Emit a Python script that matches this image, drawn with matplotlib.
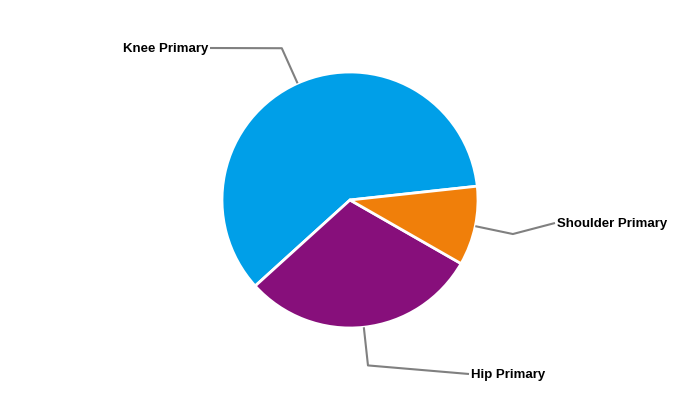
import numpy as np
import matplotlib.pyplot as plt

labels = ['Knee Primary', 'Hip Primary', 'Shoulder Primary']
values = [60, 30, 10]
colors = ['#009FE8', '#870F7B', '#F07F0A']

# label anchor positions (pixels, y down) and alignment
label_pos = [(208, 49), (471, 375), (557, 224)]
label_ha = ['right', 'left', 'left']

plt.rcParams['font.family'] = ['Liberation Sans', 'DejaVu Sans']

fig = plt.figure(figsize=(7, 4), dpi=100)
ax = fig.add_axes([0, 0, 1, 1])

cx, cy, R = 350, 200, 128
wedges, _ = ax.pie(values, colors=colors, startangle=6.2, counterclock=True,
                   center=(cx, cy), radius=R,
                   wedgeprops=dict(edgecolor='white', linewidth=2))
ax.set_xlim(0, 700)
ax.set_ylim(0, 400)
ax.set_aspect('equal')
ax.axis('off')

for w, lab, (lx, ly), ha in zip(wedges, labels, label_pos, label_ha):
    mid = np.deg2rad((w.theta1 + w.theta2) / 2)
    p0 = (cx + R * np.cos(mid), cy + R * np.sin(mid))
    p1 = (cx + 1.3 * R * np.cos(mid), cy + 1.3 * R * np.sin(mid))
    end_x = lx + 2 if ha == 'right' else lx - 2
    ax.plot([p0[0], p1[0], end_x], [p0[1], p1[1], 400 - ly + 1],
            color='#808080', lw=1.5, solid_capstyle='butt')
    ax.text(lx, 400 - ly, lab, ha=ha, va='center', fontsize=9.5,
            fontweight='bold', color='black')

fig.savefig('out.png', dpi=100)
